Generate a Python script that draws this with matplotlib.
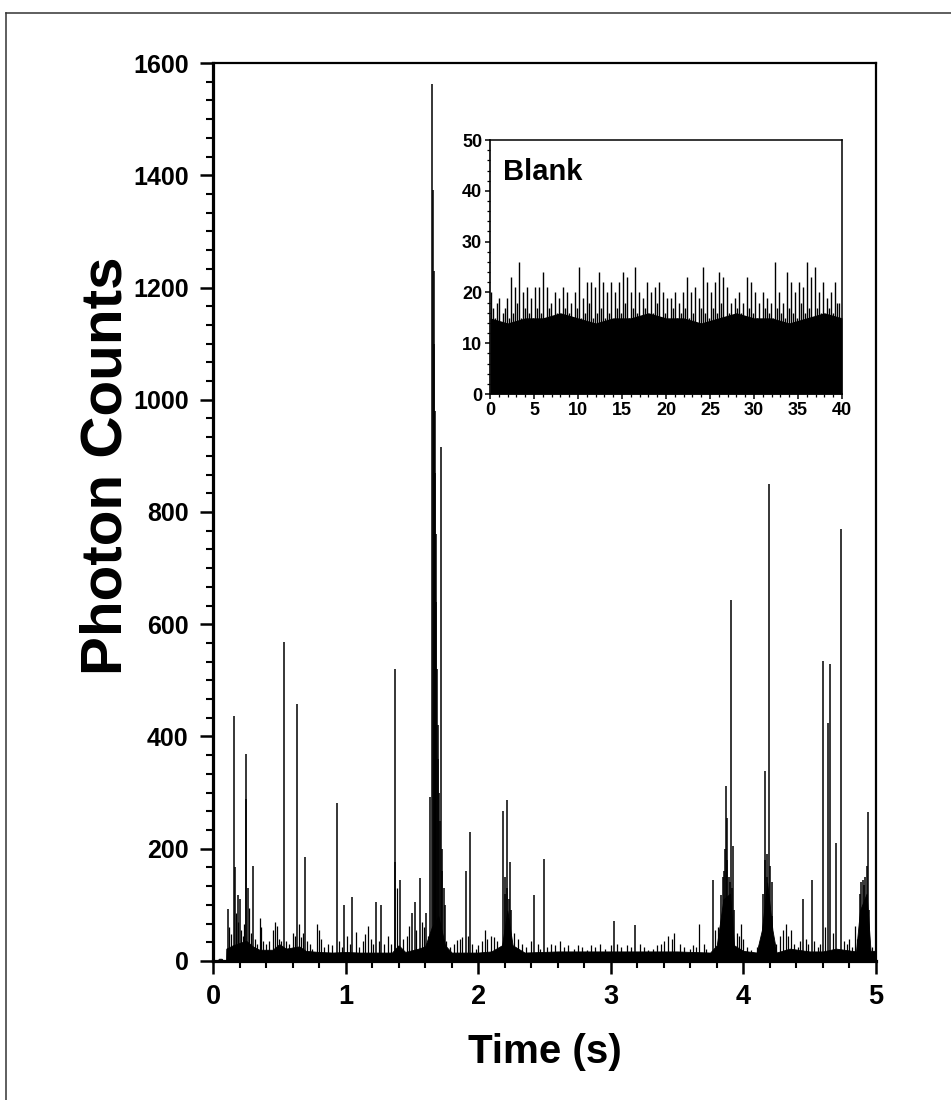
"""
plot.py
=======
Single-molecule photon burst trace (5 s) with the blank buffer trace as inset.
"""

import numpy as np
import matplotlib
matplotlib.use("Agg")
import matplotlib.pyplot as plt
from matplotlib.ticker import AutoMinorLocator
from matplotlib.lines import Line2D

plt.rcParams["font.family"] = ["Liberation Sans", "DejaVu Sans"]
plt.rcParams["font.weight"] = "bold"

# ── Main trace: background band envelope (s, counts) ─────────────────────────
band_t = [0.00, 0.03, 0.045, 0.065, 0.08, 0.098, 0.10, 0.15, 0.20, 0.25, 0.30,
          0.35, 0.45, 0.50, 0.55, 0.60, 0.65, 0.70, 0.80, 0.90, 1.00, 1.10,
          1.20, 1.35, 1.40, 1.45, 1.55, 1.60, 1.65, 1.70, 1.75, 1.80, 1.90,
          2.00, 2.10, 2.18, 2.22, 2.26, 2.35, 2.60, 3.00, 3.50, 3.75, 3.80,
          3.85, 3.90, 3.93, 4.00, 4.10, 4.14, 4.18, 4.22, 4.25, 4.35, 4.50,
          4.60, 4.70, 4.85, 4.88, 4.93, 4.96, 5.00]
band_hi = [0, 0, 4, 4, 0, 0, 22, 28, 32, 36, 26,
           20, 20, 30, 22, 24, 26, 18, 16, 15, 16, 15,
           15, 15, 28, 16, 22, 26, 60, 80, 28, 15, 15,
           15, 17, 28, 90, 28, 15, 17, 17, 17, 15, 28,
           110, 120, 28, 18, 15, 55, 140, 55, 15, 22, 17,
           17, 22, 17, 90, 120, 18, 18]

# ── Main trace: burst spikes (s, counts) ─────────────────────────────────────
spike_t = [0.114, 0.161, 0.165, 0.185, 0.200, 0.248, 0.252, 0.265, 0.303,
           0.538, 0.634, 0.697, 0.932, 0.990, 1.045, 1.232, 1.268, 1.370,
           1.372, 1.410, 1.500, 1.520, 1.560, 1.604, 1.640,
           1.652, 1.660, 1.664, 1.668, 1.672, 1.676, 1.680, 1.684, 1.690,
           1.695, 1.700, 1.705, 1.710, 1.720, 1.725, 1.730, 1.740, 1.750,
           1.906, 1.937,
           2.190, 2.200, 2.205, 2.215, 2.220, 2.230, 2.240, 2.250,
           2.424, 2.497, 3.023, 3.180,
           3.773, 3.830, 3.845, 3.855, 3.860, 3.868, 3.875, 3.880, 3.890,
           3.900, 3.906, 3.915, 3.920, 3.930,
           4.150, 4.160, 4.167, 4.175, 4.180, 4.190, 4.197, 4.205, 4.215,
           4.220, 4.450, 4.515, 4.604, 4.640, 4.656, 4.700, 4.735,
           4.880, 4.890, 4.900, 4.910, 4.920, 4.930, 4.940, 4.950]
spike_h = [92, 437, 167, 118, 110, 368, 288, 130, 169,
           568, 457, 185, 282, 99, 114, 105, 100, 520,
           176, 145, 85, 105, 148, 86, 293,
           1563, 1374, 1230, 1100, 980, 870, 760, 640, 520,
           420, 360, 300, 250, 915, 200, 160, 130, 100,
           161, 229,
           268, 150, 120, 286, 130, 110, 176, 90,
           118, 182, 71, 64,
           144, 118, 150, 160, 200, 312, 180, 255, 150,
           140, 644, 130, 204, 90,
           120, 180, 338, 190, 150, 120, 850, 170, 140,
           80, 110, 144, 535, 424, 530, 210, 770,
           120, 140, 145, 135, 150, 170, 265, 90]

# ── Main trace: small background spikes (s, counts) ──────────────────────────
grass_t = [0.120, 0.135, 0.175, 0.190, 0.210, 0.225, 0.235, 0.270, 0.285, 0.320,
           0.335, 0.354, 0.362, 0.380, 0.400, 0.420, 0.450, 0.465, 0.480, 0.500,
           0.515, 0.550, 0.570, 0.600, 0.615, 0.645, 0.660, 0.675, 0.710, 0.730,
           0.750, 0.785, 0.800, 0.815, 0.840, 0.870, 0.900, 0.950, 0.970, 1.010,
           1.030, 1.080, 1.100, 1.130, 1.150, 1.170, 1.190, 1.210, 1.250, 1.290,
           1.320, 1.340, 1.390, 1.430, 1.460, 1.480, 1.530, 1.575, 1.590, 1.620,
           1.760, 1.790, 1.820, 1.840, 1.860, 1.880, 1.920, 1.950, 1.980, 2.000,
           2.030, 2.050, 2.070, 2.100, 2.120, 2.140, 2.270, 2.300, 2.330, 2.360,
           2.400, 2.450, 2.470, 2.520, 2.550, 2.580, 2.620, 2.650, 2.680, 2.720,
           2.750, 2.780, 2.820, 2.850, 2.880, 2.920, 2.960, 3.000, 3.050, 3.080,
           3.120, 3.150, 3.220, 3.250, 3.280, 3.320, 3.350, 3.380, 3.400, 3.430,
           3.460, 3.480, 3.520, 3.550, 3.600, 3.620, 3.640, 3.667, 3.700, 3.720,
           3.790, 3.810, 3.950, 3.970, 3.980, 4.000, 4.030, 4.060, 4.100, 4.250,
           4.280, 4.300, 4.320, 4.340, 4.360, 4.380, 4.410, 4.430, 4.470, 4.490,
           4.530, 4.560, 4.580, 4.620, 4.680, 4.760, 4.780, 4.800, 4.820, 4.840,
           4.860, 4.970, 4.990]
grass_h = [60, 48, 85, 70, 55, 45, 65, 95, 50, 40,
           30, 77, 60, 35, 30, 35, 55, 70, 62, 40,
           35, 35, 30, 50, 45, 65, 42, 50, 35, 30,
           22, 66, 55, 40, 25, 30, 28, 35, 25, 45,
           30, 52, 25, 35, 48, 62, 40, 30, 35, 30,
           45, 30, 130, 40, 45, 62, 55, 70, 60, 45,
           35, 25, 30, 38, 40, 42, 45, 30, 22, 28,
           35, 55, 40, 45, 42, 35, 50, 40, 30, 25,
           35, 30, 22, 25, 30, 28, 35, 25, 28, 22,
           28, 25, 20, 28, 25, 30, 22, 28, 30, 25,
           28, 25, 30, 25, 20, 22, 28, 30, 35, 45,
           40, 50, 30, 25, 22, 28, 25, 66, 30, 22,
           55, 60, 50, 45, 66, 40, 25, 20, 25, 30,
           45, 55, 66, 45, 55, 30, 25, 35, 40, 30,
           35, 25, 30, 60, 50, 35, 30, 40, 25, 62,
           40, 25, 20]

# ── Inset: blank buffer trace (40 s) ─────────────────────────────────────────
blank_counts = [
    20, 17, 15, 18, 19, 14, 16, 17, 19, 15, 23, 16, 21, 18, 26, 15, 20, 17, 21, 16,
    19, 15, 21, 17, 21, 16, 24, 15, 21, 17, 18, 14, 20, 16, 19, 15, 21, 17, 20, 16,
    18, 14, 20, 17, 25, 15, 19, 16, 22, 18, 22, 15, 21, 16, 24, 17, 22, 15, 20, 16,
    22, 14, 20, 17, 22, 16, 24, 18, 23, 15, 20, 17, 25, 16, 20, 14, 19, 17, 22, 15,
    20, 16, 21, 18, 22, 15, 20, 16, 19, 14, 19, 17, 20, 15, 18, 16, 20, 17, 23, 15,
    20, 16, 21, 14, 19, 17, 25, 16, 22, 15, 20, 17, 22, 16, 24, 18, 23, 15, 21, 16,
    18, 14, 19, 17, 20, 16, 18, 15, 23, 17, 22, 16, 20, 15, 18, 14, 20, 17, 19, 16,
    18, 15, 26, 17, 20, 16, 18, 15, 24, 17, 22, 16, 20, 15, 22, 18, 21, 16, 26, 17,
    23, 15, 25, 17, 20, 16, 22, 15, 19, 17, 20, 16, 22, 18, 18, 14,
]
blank_floor = [15, 14, 15, 15, 16, 15, 14, 15, 15, 16, 15,
               15, 14, 15, 16, 15, 15, 14, 15, 16, 15]

main_xticks = [0, 1, 2, 3, 4, 5]
main_yticks = [0, 200, 400, 600, 800, 1000, 1200, 1400, 1600]
inset_xticks = [0, 5, 10, 15, 20, 25, 30, 35, 40]
inset_yticks = [0, 10, 20, 30, 40, 50]


def style_axis(ax, spine_w, major, minor, labelsize, pad):
    for side in ("left", "bottom"):
        ax.spines[side].set_linewidth(spine_w[0])
    for side in ("top", "right"):
        ax.spines[side].set_linewidth(spine_w[1])
    ax.tick_params(which="major", direction="out", length=major[0],
                   width=major[1], labelsize=labelsize, pad=pad,
                   top=False, right=False)
    ax.tick_params(which="minor", direction="out", length=minor[0],
                   width=minor[1], top=False, right=False)
    for lab in ax.get_xticklabels() + ax.get_yticklabels():
        lab.set_fontweight("bold")


fig = plt.figure(figsize=(9.51, 11.0), dpi=100)

# ── figure border (top and left edges of the scanned frame) ──────────────────
fig.add_artist(Line2D([0.0063, 1.0], [0.988, 0.988], color="#333333", lw=1.1))
fig.add_artist(Line2D([0.0063, 0.0063], [0.0, 0.988], color="#333333", lw=1.1))

# ── main axes ────────────────────────────────────────────────────────────────
ax = fig.add_axes([0.224, 0.1264, 0.697, 0.8163])
ax.fill_between(band_t, 0, band_hi, color="black", lw=0.6, zorder=2)
ax.vlines(grass_t, 0, grass_h, color="black", lw=0.9, zorder=2)
ax.vlines(spike_t, 0, spike_h, color="black", lw=1.1, zorder=3)

ax.set_xlim(0, 5)
ax.set_ylim(0, 1600)
ax.set_xticks(main_xticks)
ax.set_yticks(main_yticks)
ax.xaxis.set_minor_locator(AutoMinorLocator(5))
ax.yaxis.set_minor_locator(AutoMinorLocator(6))
style_axis(ax, (2.3, 1.6), (9.5, 1.8), (5.0, 1.5), 19.5, 7)
ax.tick_params(axis="y", labelsize=18, pad=8)

ax.set_xlabel("Time (s)", fontsize=29, fontweight="bold")
ax.xaxis.set_label_coords(0.5, -0.08)
ax.set_ylabel("Photon Counts", fontsize=42, fontweight="bold")
ax.yaxis.set_label_coords(-0.12, 0.552)

# ── inset: blank ─────────────────────────────────────────────────────────────
ins = fig.add_axes([0.5152, 0.6418, 0.3701, 0.2309])
floor_x = np.linspace(0, 40, len(blank_floor))
blank_x = np.linspace(0.1, 39.9, len(blank_counts))
ins.fill_between(floor_x, 0, blank_floor, color="black", lw=0, zorder=2)
ins.vlines(blank_x, 0, blank_counts, color="black", lw=1.0, zorder=2)

ins.set_xlim(0, 40)
ins.set_ylim(0, 50)
ins.set_xticks(inset_xticks)
ins.set_yticks(inset_yticks)
ins.xaxis.set_minor_locator(AutoMinorLocator(5))
ins.yaxis.set_minor_locator(AutoMinorLocator(5))
style_axis(ins, (1.2, 1.1), (3.6, 1.1), (2.0, 0.9), 13, 2)
ins.text(0.037, 0.874, "Blank", transform=ins.transAxes, fontsize=21,
         fontweight="bold", ha="left", va="center")

plt.savefig("out.png", dpi=100)
print("saved out.png")
